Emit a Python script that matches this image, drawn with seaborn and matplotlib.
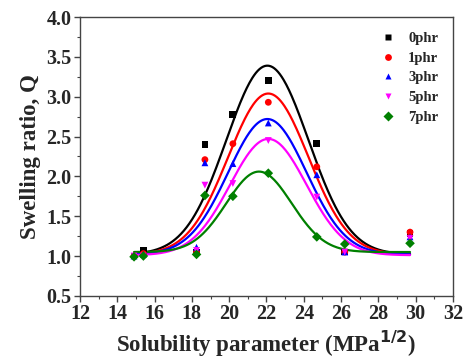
import numpy as np
import pandas as pd
import matplotlib
matplotlib.use('Agg')
import matplotlib.pyplot as plt
import seaborn as sns

# solvent solubility parameters (MPa^1/2)
delta = [14.9, 15.4, 18.25, 18.7, 20.2, 22.1, 24.7, 26.2, 29.7]

# swelling ratio for each filler loading
q_0phr = [1.00, 1.07, 1.05, 2.40, 2.78, 3.20, 2.41, 1.05, 1.28]
q_1phr = [1.00, 1.03, 1.05, 2.21, 2.41, 2.93, 2.12, 1.05, 1.30]
q_3phr = [1.00, 1.02, 1.11, 2.17, 2.16, 2.67, 2.02, 1.05, 1.24]
q_5phr = [1.00, 1.00, 1.07, 1.89, 1.91, 2.45, 1.74, 1.05, 1.22]
q_7phr = [0.99, 1.00, 1.02, 1.76, 1.75, 2.04, 1.24, 1.15, 1.16]

labels = ['0phr', '1phr', '3phr', '5phr', '7phr']
colors = ['black', 'red', 'blue', 'magenta', 'green']
markers = ['s', 'o', '^', 'v', 'D']

# Gaussian fit parameters: y0, A, xc, w
fit_y0 = [1.02, 1.02, 1.02, 1.01, 1.05]
fit_a = [2.37, 2.02, 1.70, 1.46, 1.01]
fit_xc = [22.05, 22.1, 22.05, 22.1, 21.6]
fit_w = [2.2, 2.15, 2.1, 2.05, 1.75]

series = [q_0phr, q_1phr, q_3phr, q_5phr, q_7phr]
df = pd.DataFrame({
    'delta': np.tile(delta, len(labels)),
    'Q': np.concatenate(series),
    'sample': np.repeat(labels, len(delta)),
})

xs = np.linspace(14.9, 29.7, 300)
fit_rows = []
for lab, y0, a, xc, w in zip(labels, fit_y0, fit_a, fit_xc, fit_w):
    fit_rows.append(pd.DataFrame({
        'delta': xs,
        'Q': y0 + a * np.exp(-(xs - xc) ** 2 / (2 * w ** 2)),
        'sample': lab,
    }))
fits = pd.concat(fit_rows)

sns.set_style('ticks')
plt.rcParams['font.family'] = ['Liberation Serif', 'DejaVu Serif']
plt.rcParams['font.weight'] = 'bold'

fig = plt.figure(figsize=(4.65, 3.63), dpi=100)
ax = fig.add_axes([0.172, 0.185, 0.802, 0.768])

pal = dict(zip(labels, colors))
sns.lineplot(data=fits, x='delta', y='Q', hue='sample', palette=pal,
             linewidth=1.6, legend=False, ax=ax, sort=False)
sns.scatterplot(data=df, x='delta', y='Q', hue='sample', style='sample',
                palette=pal, markers=dict(zip(labels, markers)), s=24,
                edgecolor='none', ax=ax, zorder=3)

ax.set_xlim(12, 32)
ax.set_ylim(0.5, 4.0)
ax.set_xticks(np.arange(12, 33, 2))
ax.set_yticks(np.arange(0.5, 4.01, 0.5))
ax.set_xticks(np.arange(12, 32, 1), minor=True)
ax.set_yticks(np.arange(0.5, 4.0, 0.25), minor=True)
ax.yaxis.set_major_formatter(matplotlib.ticker.FormatStrFormatter('%.1f'))
ax.tick_params(axis='both', which='major', labelsize=14.5, length=4, width=1,
               direction='out', color='#444444', pad=2)
ax.tick_params(axis='both', which='minor', length=2.5, width=0.8,
               direction='out', color='#444444')
for lbl in ax.get_xticklabels() + ax.get_yticklabels():
    lbl.set_fontweight('bold')
for sp in ax.spines.values():
    sp.set_visible(True)
    sp.set_color('#444444')
    sp.set_linewidth(1.0)

ax.set_xlabel(r'Solubility parameter (MPa$^{\mathbf{1/2}}$)', fontsize=16.5,
              fontweight='bold', labelpad=3)
ax.set_ylabel('Swelling ratio, Q', fontsize=16.5, fontweight='bold', labelpad=4)

leg = ax.legend(loc='upper right', frameon=False, handlelength=1.0,
                handletextpad=0.9, labelspacing=0.45, borderaxespad=0.6,
                prop={'weight': 'bold', 'size': 10.5})

fig.savefig('out.png', dpi=100)
